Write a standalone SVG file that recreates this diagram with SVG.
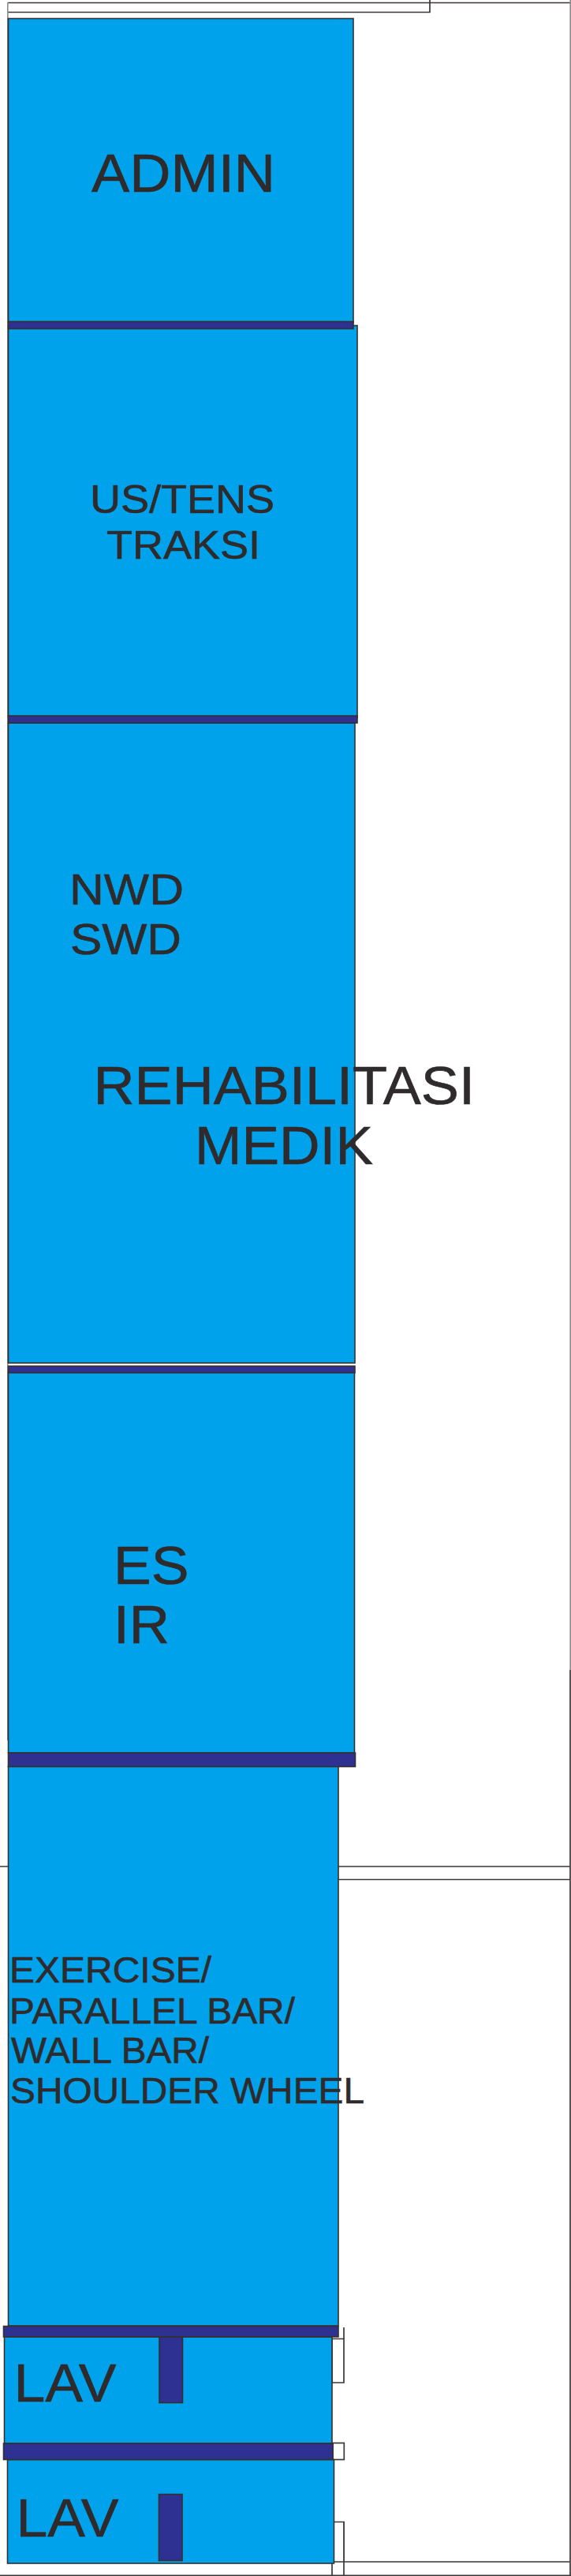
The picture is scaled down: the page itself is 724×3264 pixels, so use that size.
<svg xmlns="http://www.w3.org/2000/svg" width="724" height="3264" viewBox="0 0 724 3264">
<style>
.room{fill:#00a3eb;stroke:#35302f;stroke-width:1.6}
.bar{fill:#2e3191;stroke:#35302f;stroke-width:1.6}
.wall{fill:none;stroke:#3d3738;stroke-width:1.7}
.gr{fill:none;stroke:#8f8c8c;stroke-width:1.6}
.door{fill:#fff;stroke:#3d3738;stroke-width:1.7}
text{font-family:"Liberation Sans",Arial,sans-serif;fill:#2f2a2b;stroke:#2f2a2b;stroke-width:.6}
</style>
<rect width="724" height="3264" fill="#fff"/>
<g id="walls">
<path class="wall" d="M10 3.500H545M545 0V15.500H10M545 3.500H724"/>
<path class="gr" d="M723.200 0V2116M9.800 3V2205"/>
<path class="wall" d="M723 2116V3264"/>
<path class="wall" d="M0 2365H723M429 2381.500H723"/>
<path class="wall" d="M436 3246H723M0 3263.300H724M421 3248V3264M436 3195V3264"/>
</g>
<g id="doors">
<path class="door" d="M421 2963.500H436V3019H421Z"/>
<path class="wall" d="M436 2949V2964"/>
<rect class="door" x="422" y="3095.500" width="14.300" height="21"/>
<path class="door" d="M423 3195.500H436V3246H423Z"/>
</g>
<g id="room-admin"><rect class="room" x="10.500" y="23.500" width="437.500" height="385"/>
<text x="116" y="243" font-size="68" textLength="233" lengthAdjust="spacingAndGlyphs">ADMIN</text></g>
<g id="room-us-tens"><rect class="room" x="10.500" y="412.500" width="442.500" height="497"/>
<text x="114" y="650" font-size="50" textLength="234" lengthAdjust="spacingAndGlyphs">US/TENS</text>
<text x="135" y="707.500" font-size="50" textLength="195" lengthAdjust="spacingAndGlyphs">TRAKSI</text></g>
<g id="room-nwd"><rect class="room" x="10.500" y="916" width="439.500" height="811"/>
<text x="88" y="1145.500" font-size="56" textLength="145" lengthAdjust="spacingAndGlyphs">NWD</text>
<text x="89" y="1209" font-size="56" textLength="141" lengthAdjust="spacingAndGlyphs">SWD</text></g>
<g id="room-es"><rect class="room" x="10.500" y="1739" width="439" height="482"/>
<text x="144" y="2006.500" font-size="68" textLength="95.500" lengthAdjust="spacingAndGlyphs">ES</text>
<text x="144" y="2082" font-size="68" textLength="71" lengthAdjust="spacingAndGlyphs">IR</text></g>
<g id="room-exercise"><rect class="room" x="10.500" y="2238" width="418.500" height="709"/>
<text x="12" y="2511.500" font-size="46" textLength="256" lengthAdjust="spacingAndGlyphs">EXERCISE/</text>
<text x="12" y="2564" font-size="46" textLength="362" lengthAdjust="spacingAndGlyphs">PARALLEL BAR/</text>
<text x="14" y="2613.500" font-size="46" textLength="251" lengthAdjust="spacingAndGlyphs">WALL BAR/</text>
<text x="13" y="2665" font-size="46" textLength="449" lengthAdjust="spacingAndGlyphs">SHOULDER WHEEL</text></g>
<g id="room-lav-1"><rect class="room" x="5.500" y="2961" width="415.500" height="135"/>
<rect class="bar" x="202" y="2961" width="29.500" height="83.500"/>
<text x="17.500" y="3042.500" font-size="69" textLength="130" lengthAdjust="spacingAndGlyphs">LAV</text></g>
<g id="room-lav-2"><rect class="room" x="9.500" y="3116.500" width="414" height="131.500"/>
<rect class="bar" x="201.500" y="3160.500" width="29.500" height="84"/>
<text x="20.500" y="3213.500" font-size="69" textLength="130" lengthAdjust="spacingAndGlyphs">LAV</text></g>
<g id="bars">
<rect class="bar" x="10.500" y="407.500" width="437.500" height="9"/>
<rect class="bar" x="10.500" y="907" width="442.500" height="9"/>
<rect class="bar" x="10.500" y="1731" width="439.500" height="8.500"/>
<rect class="bar" x="10.500" y="2221" width="440" height="17.500"/>
<rect class="bar" x="4.500" y="2947.500" width="424.500" height="13.500"/>
<rect class="bar" x="4.500" y="3096" width="417.500" height="20.500"/>
</g>
<g id="label-rehabilitasi">
<text x="118.500" y="1398.500" font-size="68" textLength="483.500" lengthAdjust="spacingAndGlyphs">REHABILITASI</text>
<text x="247" y="1474.500" font-size="68" textLength="226" lengthAdjust="spacingAndGlyphs">MEDIK</text>
</g>
</svg>
